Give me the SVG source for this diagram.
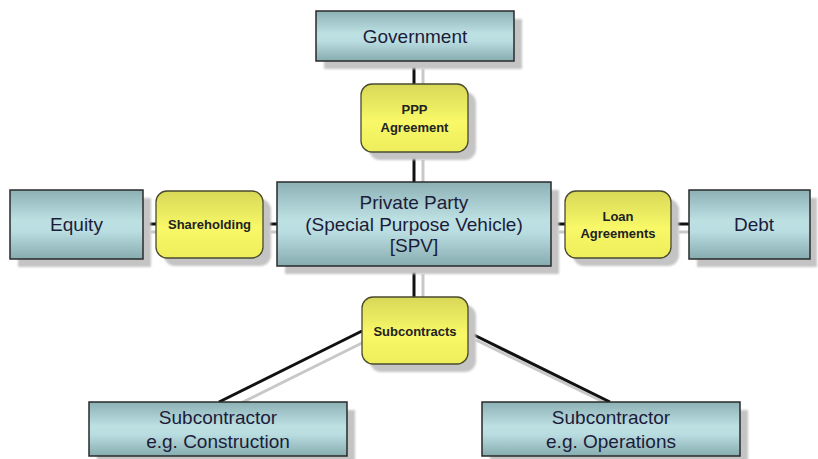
<svg xmlns="http://www.w3.org/2000/svg" width="818" height="459" viewBox="0 0 818 459">
<defs>
<linearGradient id="teal" x1="0" y1="0" x2="0" y2="1">
<stop offset="0" stop-color="#8cb1b4"/>
<stop offset="0.45" stop-color="#bde0e3"/>
<stop offset="0.6" stop-color="#b9dde0"/>
<stop offset="1" stop-color="#87acaf"/>
</linearGradient>
<linearGradient id="yel" x1="0" y1="0" x2="0" y2="1">
<stop offset="0" stop-color="#d8d858"/>
<stop offset="0.55" stop-color="#f8f868"/>
<stop offset="1" stop-color="#eeee5c"/>
</linearGradient>
<filter id="blur" x="-10%" y="-10%" width="120%" height="120%"><feGaussianBlur stdDeviation="1"/></filter>
</defs>
<style>
.box{fill:url(#teal);stroke:#2a2a2a;stroke-width:1.5}
.pill{fill:url(#yel);stroke:#4a4a30;stroke-width:1.3}
.sh{fill:#c4c4c4;filter:url(#blur)}
.ln{stroke:#111;stroke-width:3;fill:none}
.lsh{stroke:#c8c8c8;stroke-width:3;fill:none}
.t{font-family:"Liberation Sans",Arial,sans-serif;font-size:19px;fill:#1c1c3a;text-anchor:middle}
.b{font-family:"Liberation Sans",Arial,sans-serif;font-size:13px;font-weight:bold;fill:#222;text-anchor:middle}
</style>
<g id="connectors">
<g id="connector-shadows">
<line class="lsh" x1="423" y1="69" x2="423" y2="92"/>
<line class="lsh" x1="423" y1="160" x2="423" y2="190"/>
<line class="lsh" x1="423" y1="274" x2="423" y2="305"/>
<line class="lsh" x1="151" y1="232" x2="164" y2="232"/>
<line class="lsh" x1="271" y1="232" x2="285" y2="232"/>
<line class="lsh" x1="559" y1="232" x2="573" y2="232"/>
<line class="lsh" x1="679" y1="232" x2="697" y2="232"/>
<line class="lsh" x1="370" y1="339" x2="227" y2="410"/>
<line class="lsh" x1="476" y1="340" x2="618" y2="409"/>
</g>
<line class="ln" x1="414" y1="61" x2="414" y2="84"/>
<line class="ln" x1="414" y1="152" x2="414" y2="182"/>
<line class="ln" x1="414" y1="266" x2="414" y2="297"/>
<line class="ln" x1="143" y1="224" x2="156" y2="224"/>
<line class="ln" x1="263" y1="224" x2="277" y2="224"/>
<line class="ln" x1="551" y1="224" x2="565" y2="224"/>
<line class="ln" x1="671" y1="224" x2="689" y2="224"/>
<line class="ln" x1="362" y1="331" x2="219" y2="402"/>
<line class="ln" x1="468" y1="332" x2="610" y2="402"/>
</g>
<g id="government">
<rect class="sh" x="324" y="19" width="198" height="50"/>
<rect class="box" x="316" y="11" width="198" height="50"/>
<text class="t" x="415" y="43">Government</text>
</g>
<g id="ppp-agreement">
<rect class="sh" x="369" y="92" width="107" height="68" rx="11"/>
<rect class="pill" x="361" y="84" width="107" height="68" rx="11"/>
<text class="b" x="414.5" y="114">PPP</text>
<text class="b" x="414.5" y="132">Agreement</text>
</g>
<g id="equity">
<rect class="sh" x="18" y="198" width="133" height="69"/>
<rect class="box" x="10" y="190" width="133" height="69"/>
<text class="t" x="76.5" y="231">Equity</text>
</g>
<g id="shareholding">
<rect class="sh" x="164" y="199" width="107" height="67" rx="11"/>
<rect class="pill" x="156" y="191" width="107" height="67" rx="11"/>
<text class="b" x="209.5" y="229">Shareholding</text>
</g>
<g id="spv">
<rect class="sh" x="285" y="190" width="274" height="84"/>
<rect class="box" x="277" y="182" width="274" height="84"/>
<text class="t" x="414" y="209">Private Party</text>
<text class="t" x="414" y="231">(Special Purpose Vehicle)</text>
<text class="t" x="414" y="252">[SPV]</text>
</g>
<g id="loan-agreements">
<rect class="sh" x="573" y="199" width="106" height="67" rx="11"/>
<rect class="pill" x="565" y="191" width="106" height="67" rx="11"/>
<text class="b" x="618" y="221">Loan</text>
<text class="b" x="618" y="238">Agreements</text>
</g>
<g id="debt">
<rect class="sh" x="697" y="198" width="120" height="69"/>
<rect class="box" x="689" y="190" width="121" height="69"/>
<text class="t" x="754" y="231">Debt</text>
</g>
<g id="subcontracts">
<rect class="sh" x="370" y="305" width="106" height="67" rx="11"/>
<rect class="pill" x="362" y="297" width="106" height="67" rx="11"/>
<text class="b" x="415" y="336">Subcontracts</text>
</g>
<g id="subcontractor-construction">
<rect class="sh" x="97" y="410" width="258" height="54"/>
<rect class="box" x="89" y="402" width="258" height="54"/>
<text class="t" x="218" y="424">Subcontractor</text>
<text class="t" x="218" y="448">e.g. Construction</text>
</g>
<g id="subcontractor-operations">
<rect class="sh" x="490" y="410" width="258" height="54"/>
<rect class="box" x="482" y="402" width="258" height="54"/>
<text class="t" x="611" y="424">Subcontractor</text>
<text class="t" x="611" y="448">e.g. Operations</text>
</g>
</svg>
